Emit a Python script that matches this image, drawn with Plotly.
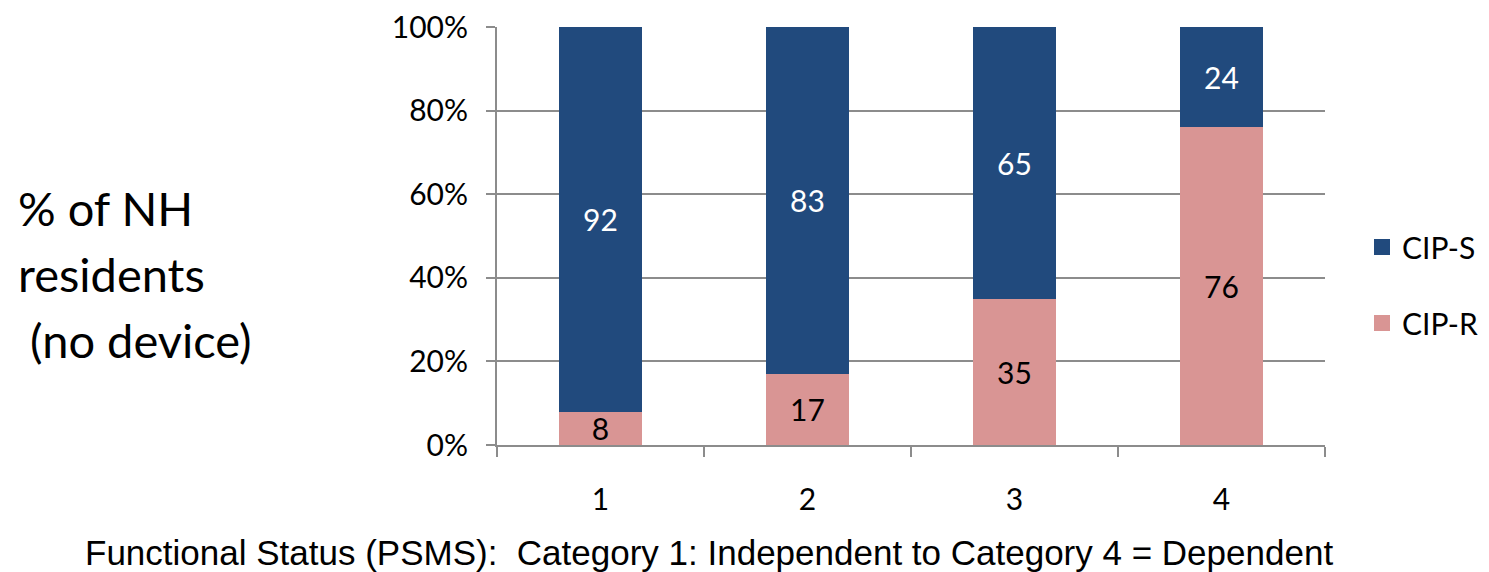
import plotly.graph_objects as go

categories = ["1", "2", "3", "4"]
cip_r = [8, 17, 35, 76]
cip_s = [92, 83, 65, 24]
y_ticks = [0, 20, 40, 60, 80, 100]
y_tick_labels = ["0%", "20%", "40%", "60%", "80%", "100%"]
title_lines = ["% of NH", "residents", " (no device)"]

BLUE = "#214a7d"
PINK = "#d99594"
GRID = "#8c8c8c"
FONT = "Lato, 'Open Sans', sans-serif"

fig = go.Figure()
fig.add_trace(go.Bar(
    x=categories, y=cip_r, name="CIP-R", marker_color=PINK, marker_line_width=0,
    text=[str(v) for v in cip_r], textposition="inside", insidetextanchor="middle",
    textangle=0, constraintext="none",
    textfont=dict(color="black", size=30, family=FONT), showlegend=False,
))
fig.add_trace(go.Bar(
    x=categories, y=cip_s, name="CIP-S", marker_color=BLUE, marker_line_width=0,
    text=[str(v) for v in cip_s], textposition="inside", insidetextanchor="middle",
    textangle=0, constraintext="none",
    textfont=dict(color="white", size=30, family=FONT), showlegend=False,
))
# legend entries with larger square swatches
fig.add_trace(go.Scatter(x=[None], y=[None], mode="markers", name="CIP-S",
                         marker=dict(symbol="square", size=20, color=BLUE),
                         legendgroup="s"))
fig.add_trace(go.Scatter(x=[None], y=[None], mode="markers", name="CIP-R",
                         marker=dict(symbol="square", size=20, color=PINK),
                         legendgroup="r"))

W, H = 1489, 572
L, R, T, B = 497, 164, 27, 127
pw = W - L - R
ph = H - T - B


def px_x(x):
    return (x - L) / pw


def px_y(y):
    return (H - B - y) / ph


annotations = []
for i, line in enumerate(title_lines):
    annotations.append(dict(
        text=line, xref="paper", yref="paper",
        x=px_x(16), y=px_y(208 + 66 * i), xanchor="left", yanchor="middle",
        align="left", showarrow=False, font=dict(size=47, family=FONT)))
annotations.append(dict(
    text="Functional Status (PSMS):  Category 1: Independent to Category 4 = Dependent",
    xref="paper", yref="paper", x=px_x(709), y=px_y(552),
    xanchor="center", yanchor="middle", showarrow=False,
    font=dict(size=35, family="Liberation Sans, Arial, sans-serif")))

fig.update_layout(
    width=W, height=H,
    margin=dict(l=L, r=R, t=T, b=B, autoexpand=False),
    barmode="stack", bargap=0.6,
    plot_bgcolor="white", paper_bgcolor="white",
    font=dict(family=FONT, size=30, color="black"),
    legend=dict(
        xref="container", yref="container",
        x=1362 / W, y=1 - 221 / H, xanchor="left", yanchor="top",
        traceorder="grouped", tracegroupgap=34,
        font=dict(size=30, family=FONT), itemwidth=30,
    ),
    xaxis=dict(
        showline=True, linecolor=GRID, linewidth=2, automargin=False,
        ticks="outside", ticklen=10, tickwidth=2, tickcolor=GRID,
        tickson="boundaries", ticklabelstandoff=27,
        tickfont=dict(size=30, family=FONT),
    ),
    yaxis=dict(
        range=[0, 100], tickvals=y_ticks, ticktext=y_tick_labels,
        showgrid=True, gridcolor=GRID, gridwidth=2, automargin=False,
        showline=True, linecolor=GRID, linewidth=2,
        ticks="outside", ticklen=9, tickwidth=2, tickcolor=GRID,
        ticklabelstandoff=12,
        tickfont=dict(size=30, family=FONT), zeroline=False,
    ),
    annotations=annotations,
)

fig.write_html("out.html")
